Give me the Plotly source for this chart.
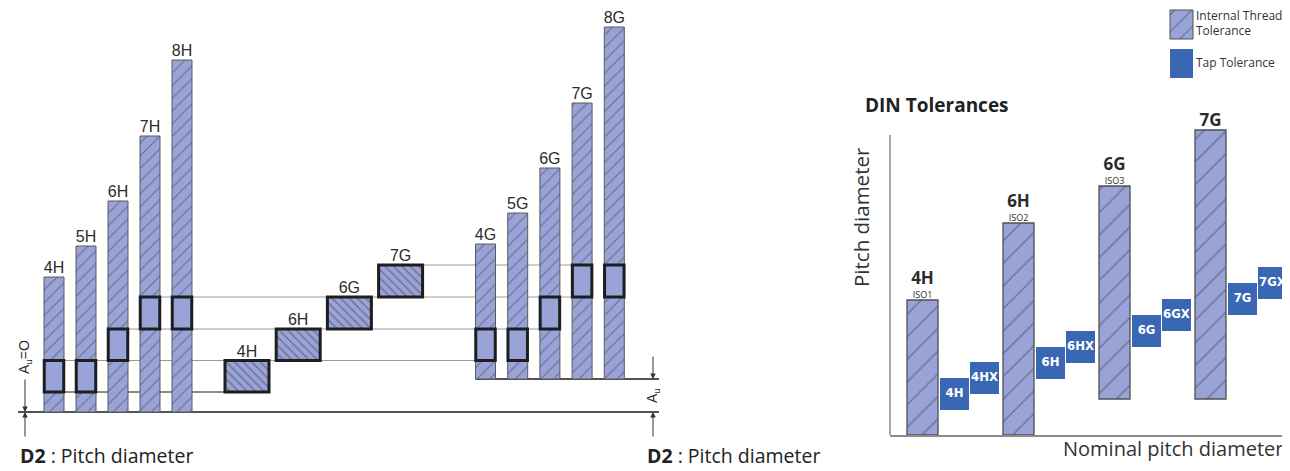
import plotly.graph_objects as go

# ---------- data ----------
# left diagram: ISO tolerance zones, heights measured up from the D2 line
H_GRADES = ["4H", "5H", "6H", "7H", "8H"]
G_GRADES = ["4G", "5G", "6G", "7G", "8G"]
TOL = [135, 166, 211, 276, 352]
H_BASE = 0
G_BASE = 33            # Au (fundamental deviation of G)
TAP_LEVELS = [20, 51.5, 83, 115, 147]
H_TAP_STEP = [0, 0, 1, 2, 2]
G_TAP_STEP = [1, 1, 2, 3, 3]
MID_GRADES = ["4H", "6H", "6G", "7G"]
MID_TAP_STEP = [0, 1, 2, 3]

# right diagram: DIN tolerances
DIN_GRADES = ["4H", "6H", "6G", "7G"]
DIN_ISO = ["ISO1", "ISO2", "ISO3", ""]
DIN_LOW = [0, 0, 36, 36]
DIN_TOL = [135, 212, 213, 269]
DIN_TAPS = ["4H", "4HX", "6H", "6HX", "6G", "6GX", "7G", "7GX"]
DIN_TAP_LOW = [25, 41, 56, 72, 88, 104, 120, 136]
DIN_TAP_TOL = 32

LEGEND_LABELS = ["Internal Thread<br>Tolerance", "Tap Tolerance"]

# ---------- style / layout ----------
W, H = 1290, 471        # page size
OFF = 8                 # body margin of the html page
FW, FH = W - OFF, H - OFF
BASE_PX = 412
FILL = "#99a3d8"
TAP_BLUE = "#3a67b3"
HATCH = "#3a3a3a"
TXT = "#2b2b2b"
ARIAL = "Liberation Sans, Arial, sans-serif"
MYRIAD = "Open Sans, Noto Sans, sans-serif"
NARROW = "Liberation Sans Narrow, DejaVu Sans Condensed, sans-serif"

BAR_W = 20
TAP_W = 19.5
MID_W = 44
H_X = [54 + 32 * i for i in range(len(H_GRADES))]
G_X = [485.5 + 32.2 * i for i in range(len(G_GRADES))]
MID_X = [247 + 51.2 * i for i in range(len(MID_GRADES))]

DIN_X = [32.5 + 96 * i for i in range(len(DIN_GRADES))]
DIN_TAP_X = [c + d for c in DIN_X for d in (32, 62)]
DIN_AXIS_TOP = 300      # height of the drawn y axis line (px)
DIN_Y_MAX = 330         # room above it for the tallest bar and its label


def px(x):
    return (x - OFF) / FW


def py(y):
    return (H - y) / FH


def hatch(shape, size, solidity):
    return dict(shape=shape, fgcolor=HATCH, bgcolor=FILL, size=size,
                solidity=solidity, fillmode="overlay")


def lefts(xs, w, steps, pick):
    return [x - w / 2 for x, s in zip(xs, steps) if pick(s)]


fig = go.Figure()

# guide lines (base axes, under the bars)
for j, lev in enumerate(TAP_LEVELS):
    touch = lambda s: s == j or s == j - 1
    starts = lefts(H_X, TAP_W, H_TAP_STEP, touch) + lefts(MID_X, MID_W, MID_TAP_STEP, touch)
    g_on = (lefts(G_X, BAR_W, G_TAP_STEP, lambda s: s == j)
            or lefts(G_X, BAR_W, G_TAP_STEP, lambda s: s == j - 1))
    end = g_on[0] if g_on else max(lefts(MID_X, MID_W, MID_TAP_STEP, touch))
    fig.add_trace(go.Scatter(
        x=[min(starts), end], y=[lev, lev], mode="lines",
        line=dict(color="#1e1e1e" if j == 0 else "#9a9a9a", width=1.2 if j == 0 else 1),
        hoverinfo="skip"))

fig.add_trace(go.Scatter(x=[18, 659], y=[H_BASE, H_BASE], mode="lines",
                         line=dict(color="#1a1a1a", width=1.5), hoverinfo="skip"))
fig.add_trace(go.Scatter(x=[G_X[0] - BAR_W / 2, 659], y=[G_BASE, G_BASE], mode="lines",
                         line=dict(color="#1a1a1a", width=1.5), hoverinfo="skip"))

# internal thread tolerance bars
for xs, base in ((H_X, H_BASE), (G_X, G_BASE)):
    fig.add_trace(go.Bar(
        x=xs, y=TOL, base=[base] * len(xs), width=BAR_W,
        marker=dict(color=FILL, line=dict(color="#5a5a5a", width=1),
                    pattern=hatch("/", 9, 0.13)),
        xaxis="x2", yaxis="y2"))

# tap tolerance boxes
for xs, steps in ((H_X, H_TAP_STEP), (G_X, G_TAP_STEP)):
    fig.add_trace(go.Bar(
        x=xs, y=[TAP_LEVELS[s + 1] - TAP_LEVELS[s] for s in steps],
        base=[TAP_LEVELS[s] for s in steps], width=TAP_W,
        marker=dict(color=FILL, line=dict(color="#1e1e1e", width=3)),
        xaxis="x2", yaxis="y2"))

fig.add_trace(go.Bar(
    x=MID_X, y=[TAP_LEVELS[s + 1] - TAP_LEVELS[s] for s in MID_TAP_STEP],
    base=[TAP_LEVELS[s] for s in MID_TAP_STEP], width=MID_W,
    marker=dict(color=FILL, line=dict(color="#1e1e1e", width=3),
                pattern=hatch("\\", 6, 0.22)),
    xaxis="x2", yaxis="y2"))

# grade labels
lab_font = dict(family=ARIAL, size=16, color=TXT)
fig.add_trace(go.Scatter(x=H_X, y=[H_BASE + t for t in TOL], text=H_GRADES, mode="text",
                         textposition="top center", textfont=lab_font, xaxis="x2", yaxis="y2"))
fig.add_trace(go.Scatter(x=G_X, y=[G_BASE + t for t in TOL], text=G_GRADES, mode="text",
                         textposition="top center", textfont=lab_font, xaxis="x2", yaxis="y2"))
fig.add_trace(go.Scatter(x=MID_X, y=[TAP_LEVELS[s + 1] for s in MID_TAP_STEP], text=MID_GRADES,
                         mode="text", textposition="top center", textfont=lab_font,
                         xaxis="x2", yaxis="y2"))

# ---------- right: DIN ----------
fig.add_trace(go.Bar(
    x=DIN_X, y=DIN_TOL, base=DIN_LOW, width=31,
    marker=dict(color=FILL, line=dict(color="#505050", width=1.3),
                pattern=hatch("/", 16, 0.08)),
    xaxis="x3", yaxis="y3"))
fig.add_trace(go.Bar(
    x=DIN_TAP_X, y=[DIN_TAP_TOL] * len(DIN_TAPS), base=DIN_TAP_LOW, width=29,
    marker=dict(color=TAP_BLUE, line=dict(width=0)), cliponaxis=False,
    xaxis="x3", yaxis="y3"))
fig.add_trace(go.Scatter(
    x=DIN_TAP_X, y=[b + DIN_TAP_TOL / 2 for b in DIN_TAP_LOW], text=DIN_TAPS, mode="text",
    textposition="middle center", cliponaxis=False,
    textfont=dict(family=NARROW, size=13, color="white", weight="bold"),
    xaxis="x3", yaxis="y3"))
din_top = [b + t for b, t in zip(DIN_LOW, DIN_TOL)]
fig.add_trace(go.Scatter(
    x=DIN_X, y=din_top, text=DIN_ISO, mode="text", textposition="top center",
    textfont=dict(family=MYRIAD, size=9, color=TXT), xaxis="x3", yaxis="y3"))
fig.add_trace(go.Scatter(
    x=DIN_X, y=[t + (12 if iso else 0) for t, iso in zip(din_top, DIN_ISO)],
    text=["<b>%s</b>" % g for g in DIN_GRADES], mode="text", textposition="top center",
    cliponaxis=False, textfont=dict(family=MYRIAD, size=17, color=TXT),
    xaxis="x3", yaxis="y3"))

# y axis spine of the DIN panel
fig.add_shape(type="line", xref="x3 domain", yref="y3", x0=0, x1=0, y0=0, y1=DIN_AXIS_TOP,
              line=dict(color="#8c8c8c", width=1.5), layer="above")

# legend swatches
fig.add_trace(go.Bar(
    x=[21.5], y=[29], base=[41], width=23,
    marker=dict(color=FILL, line=dict(color="#505050", width=1), pattern=hatch("/", 12, 0.1)),
    xaxis="x4", yaxis="y4"))
fig.add_trace(go.Bar(
    x=[21.5], y=[29], base=[2], width=23,
    marker=dict(color=TAP_BLUE, line=dict(width=0)), xaxis="x4", yaxis="y4"))
fig.add_trace(go.Scatter(
    x=[36, 36], y=[55.5, 16.5], text=LEGEND_LABELS, mode="text", textposition="middle right",
    cliponaxis=False, textfont=dict(family=MYRIAD, size=12, color="#333"),
    xaxis="x4", yaxis="y4"))

# ---------- annotations ----------
arrow = dict(xref="x", yref="y", showarrow=True, arrowhead=2, arrowsize=1.1,
             arrowwidth=1, arrowcolor="#333", text="")
fig.add_annotation(x=25, y=H_BASE, ax=0, ay=-34, **arrow)
fig.add_annotation(x=25, y=H_BASE, ax=0, ay=26, **arrow)
fig.add_annotation(x=653, y=G_BASE, ax=0, ay=-24, **arrow)
fig.add_annotation(x=653, y=H_BASE, ax=0, ay=26, **arrow)

fig.add_annotation(x=25, y=55, xref="x", yref="y", text="A<sub>u</sub>=O", textangle=-90,
                   showarrow=False, font=dict(family=ARIAL, size=14, color=TXT))
fig.add_annotation(x=653, y=16, xref="x", yref="y", text="A<sub>u</sub>", textangle=-90,
                   showarrow=False, font=dict(family=ARIAL, size=14, color=TXT))

for x0 in (18, 645):
    fig.add_annotation(x=x0, y=-43, xref="x", yref="y", xanchor="left", yanchor="middle",
                       text="<b>D2</b> : Pitch diameter", showarrow=False,
                       font=dict(family=MYRIAD, size=19.5, color="#222"))

fig.add_annotation(x=px(863), y=py(105), xref="paper", yref="paper", xanchor="left",
                   yanchor="middle", text="<b>DIN Tolerances</b>", showarrow=False,
                   font=dict(family=MYRIAD, size=19, color="#222"))
fig.add_annotation(x=px(877), y=py(217), xref="paper", yref="paper", textangle=-90,
                   text="Pitch diameter", showarrow=False,
                   font=dict(family=MYRIAD, size=20.5, color="#333"))
fig.add_annotation(x=px(1285), y=py(448), xref="paper", yref="paper", xanchor="right",
                   yanchor="middle", text="Nominal pitch diameter", showarrow=False,
                   font=dict(family=MYRIAD, size=20, color="#333"))

ax_off = dict(visible=False, showgrid=False, zeroline=False, fixedrange=True)
y_left = [BASE_PX - H, BASE_PX - OFF]
fig.update_layout(
    width=FW, height=FH, margin=dict(l=0, r=0, t=0, b=0, pad=0),
    paper_bgcolor="white", plot_bgcolor="rgba(0,0,0,0)",
    showlegend=False, barmode="overlay",
    xaxis=dict(domain=[0, 1], range=[OFF, W], **ax_off),
    yaxis=dict(domain=[0, 1], range=y_left, **ax_off),
    xaxis2=dict(overlaying="x", range=[OFF, W], **ax_off),
    yaxis2=dict(overlaying="y", range=y_left, **ax_off),
    xaxis3=dict(domain=[px(890), 1], range=[0, 400], anchor="y3", showline=True,
                linecolor="#8c8c8c", linewidth=1.5, showticklabels=False, ticks="",
                showgrid=False, zeroline=False, fixedrange=True),
    yaxis3=dict(domain=[py(435), py(435 - DIN_Y_MAX)], range=[0, DIN_Y_MAX], anchor="x3",
                **ax_off),
    xaxis4=dict(domain=[px(1160), 1], range=[0, 130], anchor="y4", **ax_off),
    yaxis4=dict(domain=[py(80), 1], range=[0, 80 - OFF], anchor="x4", **ax_off),
)

fig.write_html("out.html")
